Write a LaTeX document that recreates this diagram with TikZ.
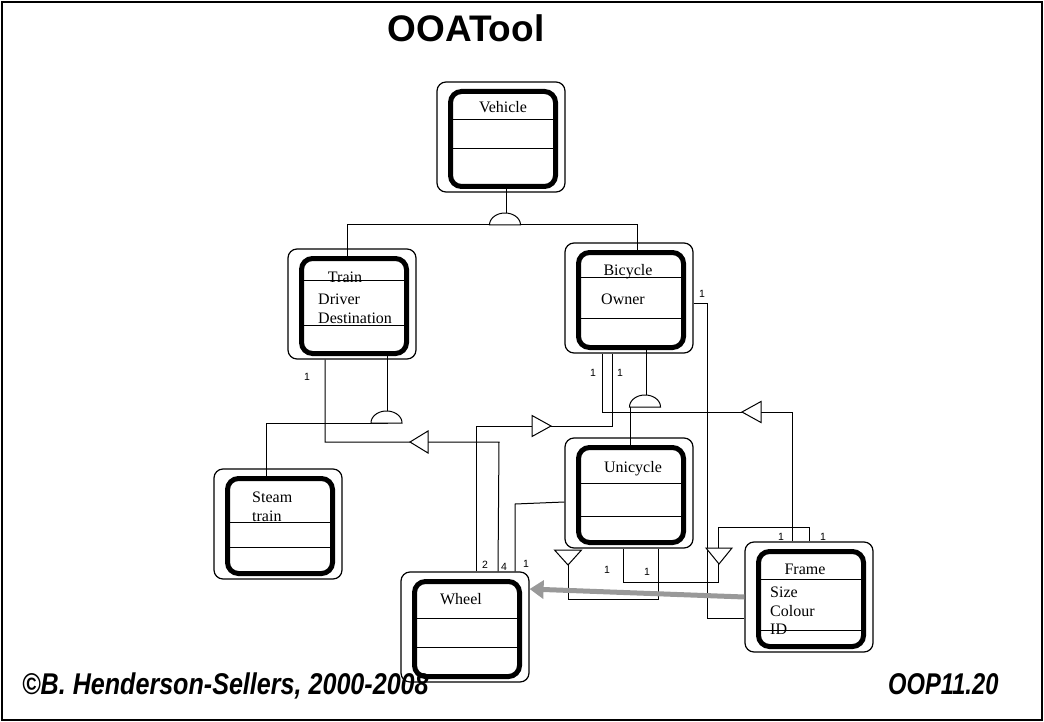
\documentclass[tikz,border=0pt]{standalone}
\usepackage{fontspec}
\setmainfont{Liberation Serif}
\newfontfamily\labelfont{Liberation Sans}
\usetikzlibrary{arrows.meta,calc}
\definecolor{arrowgray}{gray}{0.6}

\tikzset{
  classouter/.style={draw, rounded corners=9pt, line width=1.2pt,
    minimum width=128pt, minimum height=110pt, inner sep=0pt},
  classinner/.style={draw, rounded corners=11pt, line width=5pt,
    minimum width=105pt, minimum height=95pt, inner sep=0pt},
  link/.style={line width=1pt},
  rule/.style={line width=1pt},
  mult/.style={font=\labelfont\fontsize{10.5}{12}\selectfont, inner sep=0pt},
  attr/.style={font=\fontsize{16}{18}\selectfont, inner sep=0pt, anchor=base west},
  cname/.style={font=\fontsize{16}{18}\selectfont, inner sep=0pt, anchor=base},
  navtri/.style={draw, fill=white, line width=1pt, line join=miter},
  genarc/.style={draw, fill=white, line width=1pt},
  footer/.style={anchor=base west, inner sep=0pt,
    font=\labelfont\bfseries\itshape\fontsize{30}{32}\selectfont},
}

% class symbol: outer rounded frame plus thick inner frame
\newcommand\umlclass[3]{%
  \node[classouter] (#1) at (#2,#3) {};
  \node[classinner] (#1-in) at ($(#1.center)+(2,2)$) {};
}
% compartment rule across the inner frame at height #2
\newcommand\compartment[2]{%
  \draw[rule] (#1-in.west |- 0,#2) -- (#1-in.east |- 0,#2);
}
% half-ellipse generalisation mark centred on its base
\newcommand\genmark[3]{%
  \coordinate (#1) at (#2,#3);
  \path[genarc] plot[domain=0:180, samples=40]
    ({#2+15.5*cos(\x)}, {#3-12*sin(\x)}) -- cycle;
}

\begin{document}
\begin{tikzpicture}[x=1pt, y=-1pt]
\useasboundingbox (0,0) rectangle (1044,722);
\draw[line width=2.5pt] (2,2) rectangle (1042,720);

\node[font=\labelfont\bfseries\fontsize{37}{40}\selectfont, anchor=base, inner sep=0pt]
  (title) at (466,42) {OOATool};

% ---- classes ----
\umlclass{vehicle}{501}{137}
\compartment{vehicle}{120}
\compartment{vehicle}{149}
\node[cname] (vehicle-name) at (503,113) {Vehicle};

\umlclass{train}{352}{304}
\compartment{train}{280}
\compartment{train}{325}
\node[cname] (train-name) at (345,282) {Train};
\node[attr] (train-a1) at (318,304) {Driver};
\node[attr] (train-a2) at (318,323) {Destination};

\umlclass{bicycle}{629}{298}
\compartment{bicycle}{277}
\compartment{bicycle}{318}
\node[cname] (bicycle-name) at (628,275) {Bicycle};
\node[attr] (bicycle-a1) at (601,304) {Owner};

\umlclass{steam}{278}{524}
\compartment{steam}{522}
\compartment{steam}{547}
\node[attr] (steam-n1) at (252,502) {Steam};
\node[attr] (steam-n2) at (252,521) {train};

\umlclass{unicycle}{629}{493}
\compartment{unicycle}{483}
\compartment{unicycle}{516}
\node[cname] (unicycle-name) at (633,472) {Unicycle};

\umlclass{wheel}{465}{627}
\compartment{wheel}{618}
\compartment{wheel}{647}
\node[cname] (wheel-name) at (461,604) {Wheel};

\umlclass{frame}{809}{597}
\compartment{frame}{579}
\compartment{frame}{630}
\node[cname] (frame-name) at (805,574) {Frame};
\node[attr] (frame-a1) at (770,597) {Size};
\node[attr] (frame-a2) at (770,616) {Colour};
\node[attr] (frame-a3) at (770,634) {ID};

% ---- generalisation ----
\draw[link] (506,0 |- vehicle-in.south) -- (506,213);
\draw[link] (347,0 |- train-in.north) -- (347,225) -- (637,225) -- (637,0 |- bicycle-in.north);
\genmark{g1}{505}{225}

\draw[link] (387,0 |- train-in.south) -- (387,411);
\draw[link] (388,423) -- (266,423) -- (266,0 |- steam-in.north);
\genmark{g2}{386.5}{423}

\draw[link] (646,0 |- bicycle-in.south) -- (646,395);
\draw[link] (630,407) -- (630,0 |- unicycle-in.north);
\genmark{g3}{645}{407}

% ---- associations ----
\draw[link] (325,0 |- train.south) -- (325,442) -- (499,442) -- (498,0 |- wheel.north);
\draw[navtri] (410,442) -- (428,431) -- (428,453) -- cycle;

\draw[link] (612,0 |- bicycle.south) -- (612,426) -- (476,426) -- (476,0 |- wheel.north);
\draw[navtri] (551,426) -- (532,415.5) -- (532,436.5) -- cycle;

\draw[link] (602,0 |- bicycle.south) -- (602,412) -- (792,412) -- (792,0 |- frame.north);
\draw[navtri] (742,412) -- (761,401.5) -- (761,422.5) -- cycle;

\draw[link] (bicycle.east |- 0,303) -- (707,303) -- (707,618) -- (frame.west |- 0,618);

\draw[link] (unicycle.west |- 0,502) -- (515,504) -- (515,0 |- wheel.north);

\draw[link] (658,0 |- unicycle.south) -- (658,599) -- (568,599) -- (568,565);
\draw[navtri] (568,565) -- (554.5,550) -- (581.5,550) -- cycle;

\draw[link] (623,0 |- unicycle.south) -- (623,582) -- (718,582) -- (718,527) -- (809,527) -- (809,0 |- frame.north);
\draw[navtri] (719,564) -- (706,548) -- (732,548) -- cycle;

\draw[line width=5pt, arrowgray, -{Triangle[length=14pt,width=18pt]}]
  (frame.west |- 0,597) -- (wheel.east |- 0,589);

% ---- multiplicities ----
\node[mult] (m1) at (307,377) {1};
\node[mult] (m2) at (702,294) {1};
\node[mult] (m3) at (593,373) {1};
\node[mult] (m4) at (620,373) {1};
\node[mult] (m5) at (485,565) {2};
\node[mult] (m6) at (504,567) {4};
\node[mult] (m7) at (526,564) {1};
\node[mult] (m8) at (607,570) {1};
\node[mult] (m9) at (647,572) {1};
\node[mult] (m10) at (781,537) {1};
\node[mult] (m11) at (823,537) {1};

% ---- footer ----
\node[footer] (copyright) at (22,694) {\scalebox{0.837}[1]{©B. Henderson-Sellers, 2000-2008}};
\node[footer] (slide) at (888,694) {\scalebox{0.79}[1]{OOP11.20}};
\end{tikzpicture}
\end{document}
